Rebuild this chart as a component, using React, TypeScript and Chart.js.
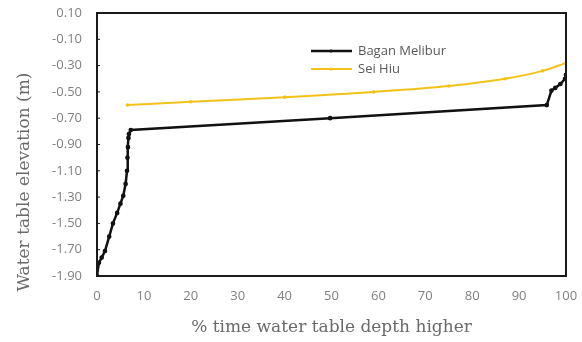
import React, { useEffect, useRef } from "react";
import { Chart, registerables } from "chart.js";

Chart.register(...registerables);

const baganX = [0, 0.4, 1.0, 1.7, 2.6, 3.4, 4.3, 5.0, 5.6, 6.1, 6.4, 6.5, 6.6, 6.7, 6.8, 7.2, 49.7, 95.9, 96.9, 97.7, 98.8, 99.8, 100];
const baganY = [-1.9, -1.8, -1.76, -1.71, -1.6, -1.5, -1.42, -1.35, -1.29, -1.2, -1.1, -1.0, -0.92, -0.85, -0.82, -0.79, -0.7, -0.6, -0.49, -0.47, -0.44, -0.4, -0.37];
const seiX = [6.5, 20, 40, 59, 75, 87, 95, 100];
const seiY = [-0.6, -0.575, -0.54, -0.5, -0.455, -0.4, -0.34, -0.28];
const xTicks = [0, 10, 20, 30, 40, 50, 60, 70, 80, 90, 100];
const yTicks = [-1.9, -1.7, -1.5, -1.3, -1.1, -0.9, -0.7, -0.5, -0.3, -0.1, 0.1];
const seriesNames = ["Bagan Melibur", "Sei Hiu"];
const seriesColors = ["#111111", "#f2c21b"];
const yTitle = "Water table elevation (m)";
const xTitle = "% time water table depth higher";

export default function App() {
  const ref = useRef<HTMLCanvasElement | null>(null);
  useEffect(() => {
    if (!ref.current) return;
    const frame = {
      id: "frame",
      afterDatasetsDraw(chart: any) {
        const { ctx, chartArea: a } = chart;
        ctx.save();
        ctx.strokeStyle = "#1a1a1a";
        ctx.lineWidth = 2;
        ctx.strokeRect(a.left, a.top, a.right - a.left, a.bottom - a.top);
        ctx.lineWidth = 1;
        const ys = chart.scales.y;
        yTicks.forEach((v) => {
          const py = ys.getPixelForValue(v);
          ctx.beginPath();
          ctx.moveTo(a.left, py);
          ctx.lineTo(a.left + 3, py);
          ctx.stroke();
        });
        const lx = 311, ly = [51, 69];
        seriesNames.forEach((n, i) => {
          ctx.strokeStyle = seriesColors[i];
          ctx.lineWidth = i === 0 ? 2.5 : 2;
          ctx.beginPath();
          ctx.moveTo(lx, ly[i]);
          ctx.lineTo(lx + 41, ly[i]);
          ctx.stroke();
          ctx.fillStyle = seriesColors[i];
          ctx.beginPath();
          ctx.arc(lx + 20, ly[i], 1.6, 0, Math.PI * 2);
          ctx.fill();
          ctx.fillStyle = "#595959";
          ctx.font = "13px 'Open Sans'";
          ctx.textBaseline = "middle";
          ctx.textAlign = "left";
          ctx.fillText(n, lx + 47, ly[i]);
        });
        ctx.translate(25, 182);
        ctx.rotate(-Math.PI / 2);
        ctx.fillStyle = "#6a6a6a";
        ctx.font = "17px 'DejaVu Serif'";
        ctx.textAlign = "center";
        ctx.textBaseline = "middle";
        ctx.fillText(yTitle, 0, 0);
        ctx.restore();
      },
    };
    const chart = new Chart(ref.current, {
      type: "line",
      data: {
        datasets: [
          {
            label: seriesNames[0],
            data: baganX.map((x, i) => ({ x, y: baganY[i] })),
            borderColor: seriesColors[0],
            backgroundColor: seriesColors[0],
            borderWidth: 2.5,
            pointRadius: 1.1,
            tension: 0,
          },
          {
            label: seriesNames[1],
            data: seiX.map((x, i) => ({ x, y: seiY[i] })),
            borderColor: seriesColors[1],
            backgroundColor: seriesColors[1],
            borderWidth: 2,
            pointRadius: 0.8,
            cubicInterpolationMode: "monotone",
          },
        ],
      },
      options: {
        animation: false,
        responsive: false,
        layout: { padding: { top: 13, right: 16, left: 0, bottom: 0 } },
        plugins: { legend: { display: false }, tooltip: { enabled: false } },
        scales: {
          x: {
            type: "linear",
            min: 0,
            max: 100,
            afterBuildTicks: (s: any) => { s.ticks = xTicks.map((v) => ({ value: v })); },
            afterFit: (s: any) => { s.height = 66; s.paddingLeft = 0; s.paddingRight = 0; },
            grid: { display: false, drawTicks: false },
            border: { display: false },
            ticks: { color: "#808080", font: { family: "'Open Sans'", size: 13 }, padding: 12, maxRotation: 0 },
            title: { display: true, text: xTitle, color: "#6a6a6a", font: { family: "'DejaVu Serif'", size: 17 }, padding: { top: 4 } },
          },
          y: {
            type: "linear",
            min: -1.9,
            max: 0.1,
            afterBuildTicks: (s: any) => { s.ticks = yTicks.map((v) => ({ value: v })); },
            afterFit: (s: any) => { s.width = 97; s.paddingTop = 0; s.paddingBottom = 0; },
            grid: { display: false, drawTicks: false },
            border: { display: false },
            ticks: { color: "#808080", font: { family: "'Open Sans'", size: 13 }, padding: 15, callback: (v: any) => Number(v).toFixed(2) },
          },
        },
      },
      plugins: [frame],
    } as any);
    return () => chart.destroy();
  }, []);
  return (
    <div style={{ position: "absolute", left: 0, top: 0, width: 582, height: 342, background: "#fff" }}>
      <canvas ref={ref} width={582} height={342} />
    </div>
  );
}
